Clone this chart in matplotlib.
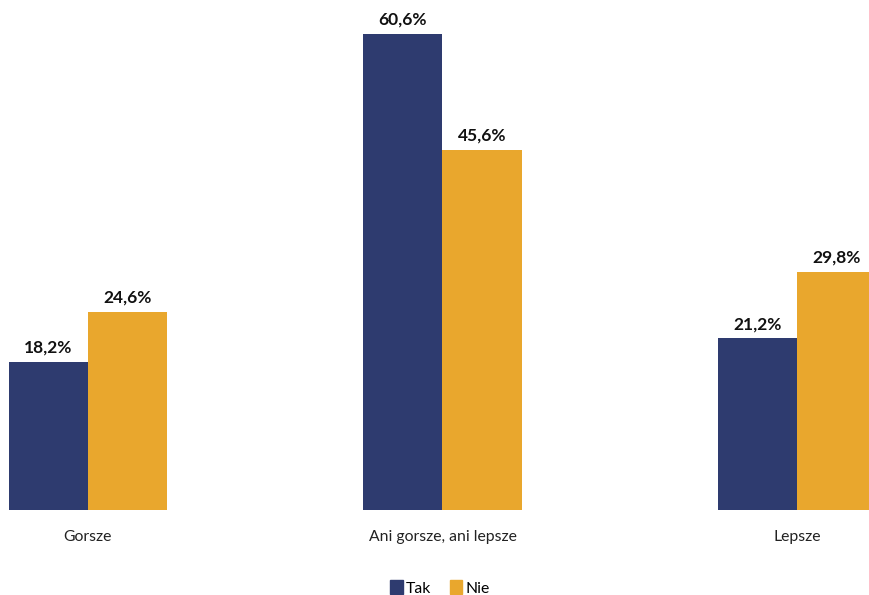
import matplotlib
matplotlib.use("Agg")
import matplotlib.pyplot as plt
import numpy as np
from matplotlib.patches import Patch

categories = ["Gorsze", "Ani gorsze, ani lepsze", "Lepsze"]
series_names = ["Tak", "Nie"]
tak = [18.2, 60.6, 21.2]
nie = [24.6, 45.6, 29.8]
colors = ["#2E3B6F", "#E9A72D"]

plt.rcParams['font.family'] = ['Lato', 'DejaVu Sans']

fig = plt.figure(figsize=(8.69, 5.95), dpi=100)
ax = fig.add_axes([0, 1 - 510/595, 1, 510/595])

x = np.arange(len(categories))
w = 0.223
y0 = -1.0
for vals, off, col in [(tak, -w/2, colors[0]), (nie, w/2, colors[1])]:
    ax.bar(x + off, np.array(vals) - y0, width=w, bottom=y0, color=col, linewidth=0)
    for xi, v in zip(x + off, vals):
        ax.text(xi, v + 0.8, f"{v:.1f}%".replace(".", ","), ha="center", va="bottom",
                fontsize=12.5, fontweight="bold", color="#111111")

ax.set_xlim(-0.248, 2.203)
ax.set_ylim(y0, 65.0)
ax.axis("off")

for xi, c in zip(x, categories):
    fig.text((xi + 0.248) / (2.203 + 0.248), 1 - 537/595, c, ha="center", va="center",
             fontsize=11.3, color="#222222")

handles = [Patch(color=colors[0], label=series_names[0]), Patch(color=colors[1], label=series_names[1])]
fig.legend(handles=handles, loc="center", bbox_to_anchor=(440/869, 1 - 588/595), ncol=2,
           frameon=False, fontsize=11.3, handlelength=0.8, handleheight=1.0,
           handletextpad=0.2, columnspacing=1.2)

fig.savefig("out.png", dpi=100)
